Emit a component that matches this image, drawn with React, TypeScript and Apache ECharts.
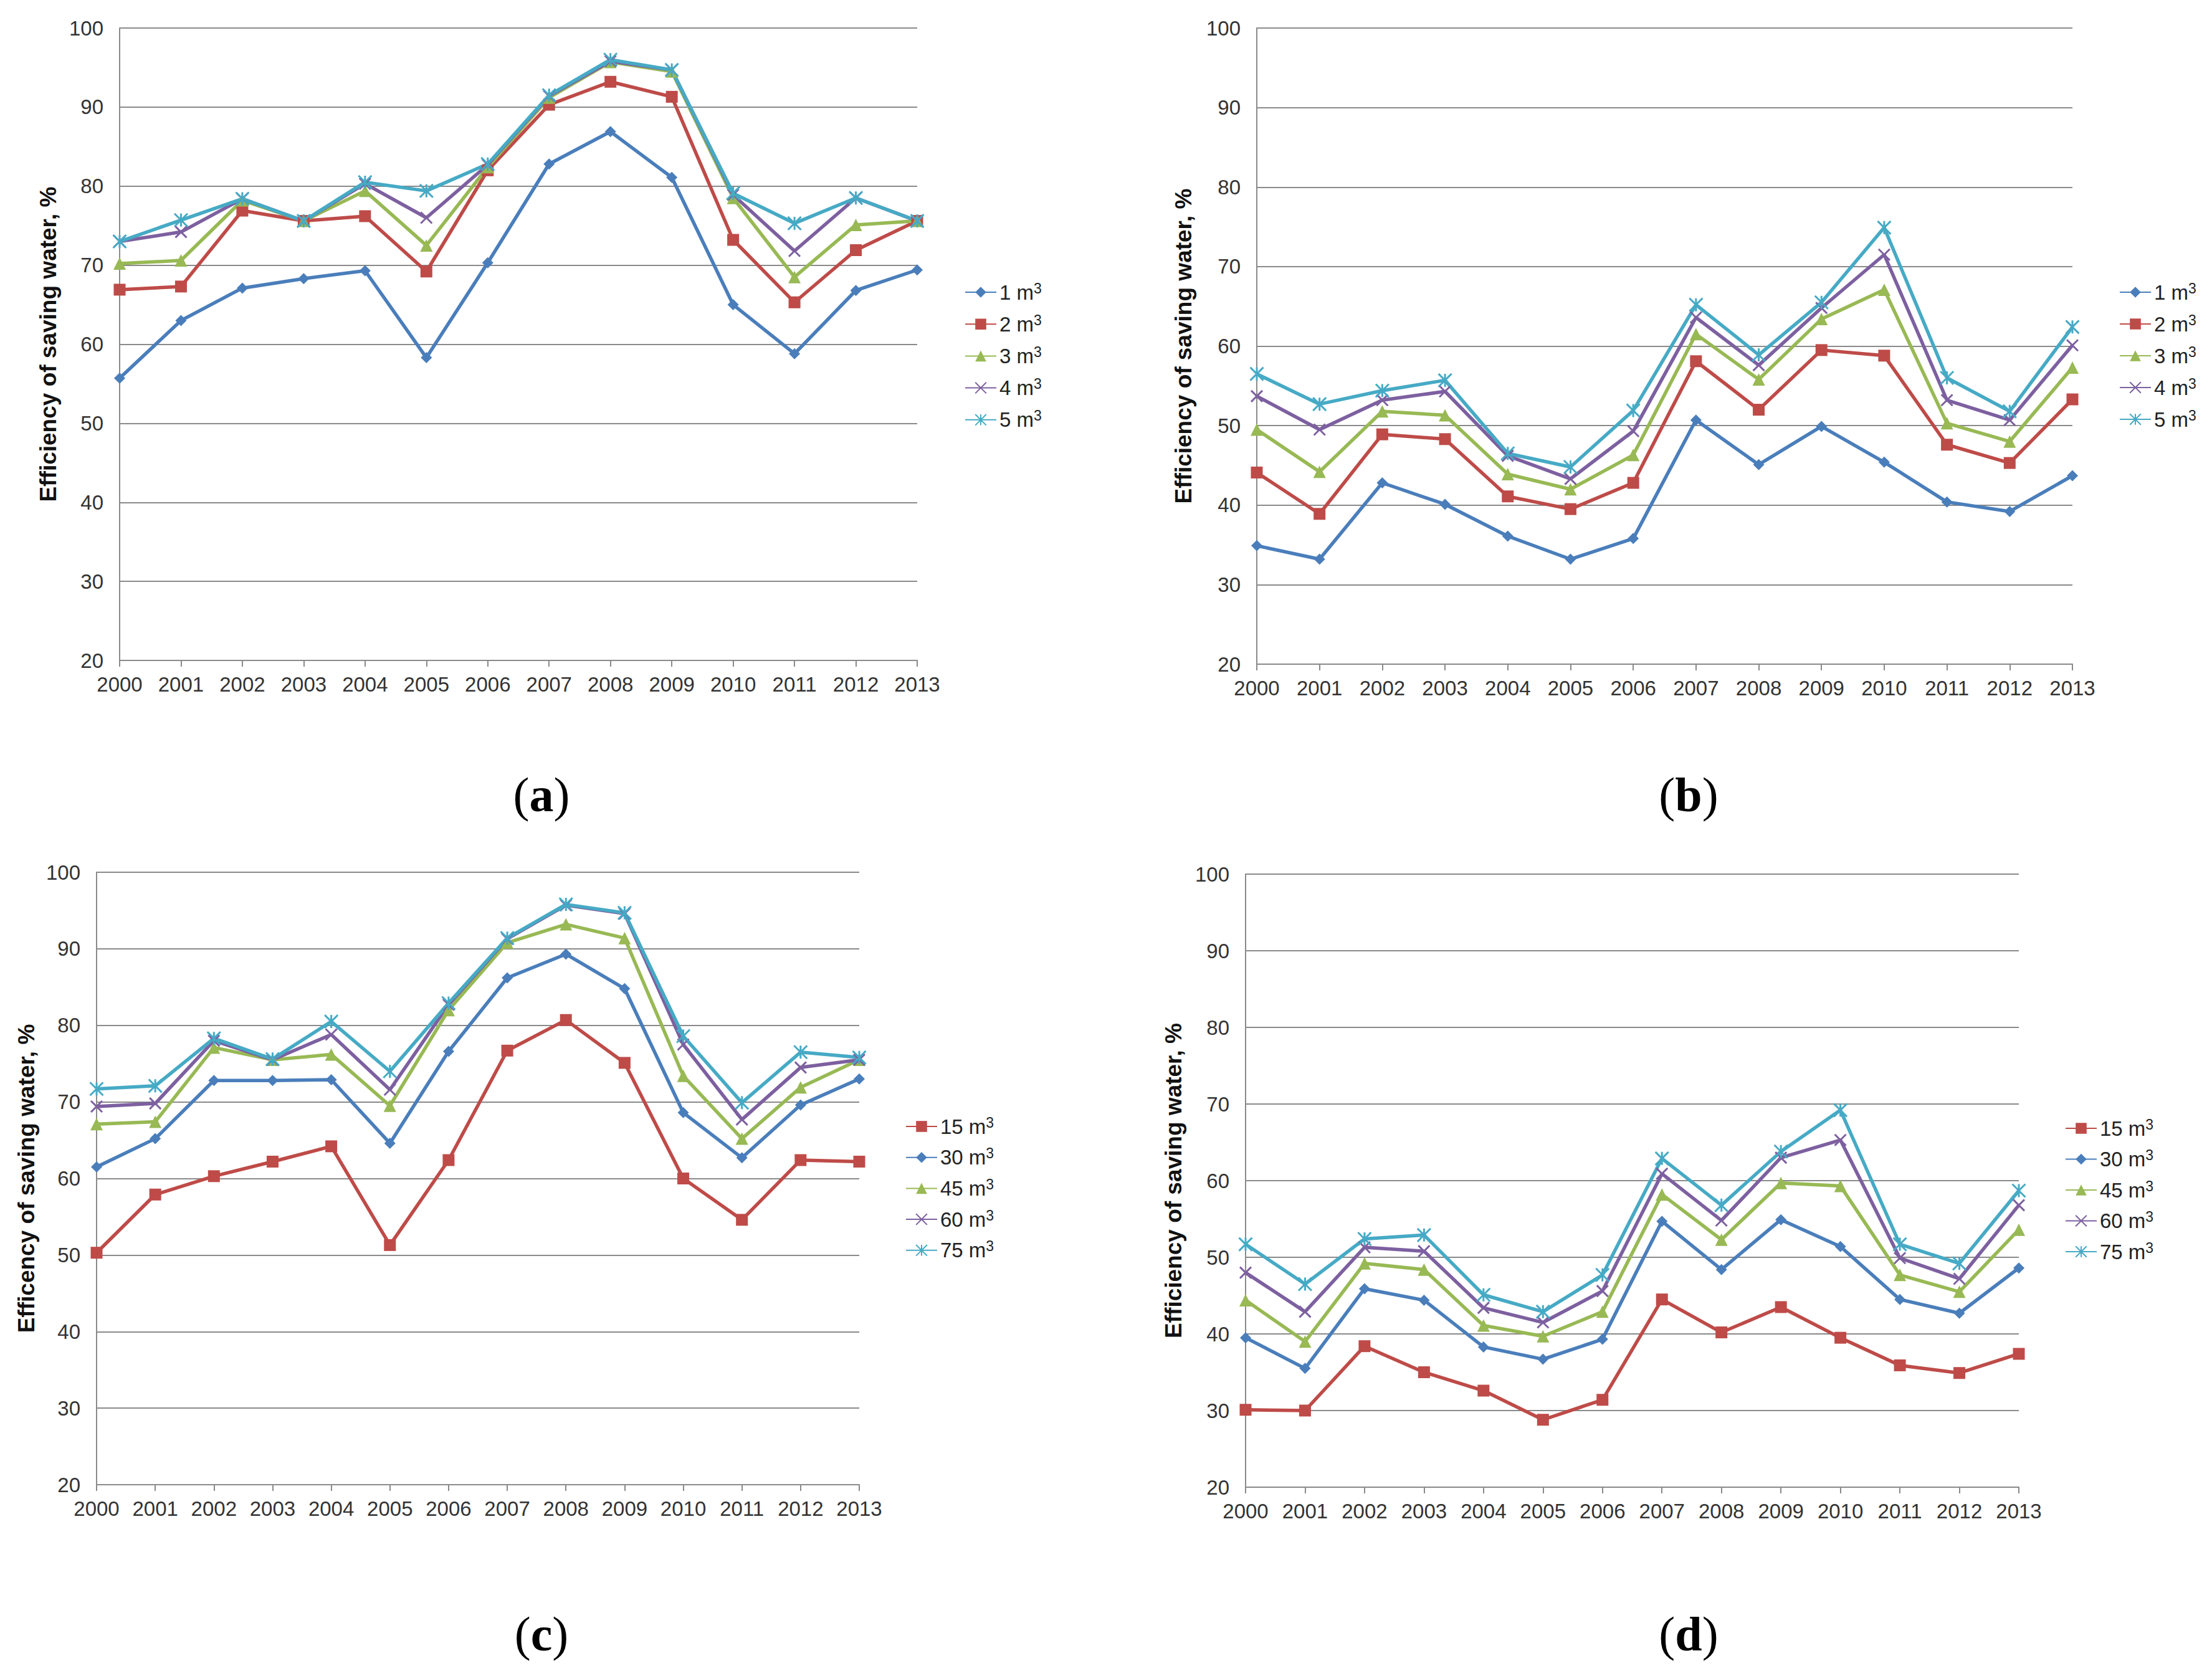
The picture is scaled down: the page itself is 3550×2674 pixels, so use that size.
import React, { useEffect, useRef } from "react";
import * as echarts from "echarts";

// ---------- data ----------
const years = ["2000","2001","2002","2003","2004","2005","2006","2007","2008","2009","2010","2011","2012","2013"];
const yMin = 20;
const yMax = 100;
const yStep = 10;

const namesTop = ["1 m³", "2 m³", "3 m³", "4 m³", "5 m³"];
const namesBottom = ["15 m³", "30 m³", "45 m³", "60 m³", "75 m³"];
const titleTop = "Efficiency of saving water, %";
const titleC = "Efficency of saving water, %";
const panelLabels = ["a", "b", "c", "d"];

// panel (a)
const a1 = [55.7, 63.0, 67.1, 68.3, 69.3, 58.3, 70.3, 82.8, 86.9, 81.1, 65.0, 58.8, 66.8, 69.4];
const a2 = [66.9, 67.3, 76.9, 75.6, 76.2, 69.2, 82.0, 90.3, 93.2, 91.3, 73.2, 65.3, 71.9, 75.6];
const a3 = [70.2, 70.6, 78.2, 75.6, 79.4, 72.5, 82.4, 91.2, 95.7, 94.5, 78.5, 68.5, 75.1, 75.6];
const a4 = [73.0, 74.2, 78.4, 75.6, 80.3, 76.0, 82.7, 91.4, 95.8, 94.7, 78.9, 71.8, 78.5, 75.6];
const a5 = [73.0, 75.7, 78.4, 75.6, 80.5, 79.4, 82.8, 91.5, 96.0, 94.7, 79.1, 75.3, 78.5, 75.6];

// panel (b)
const b1 = [34.9, 33.2, 42.8, 40.1, 36.1, 33.2, 35.8, 50.7, 45.1, 49.9, 45.4, 40.4, 39.2, 43.7];
const b2 = [44.1, 38.9, 48.9, 48.3, 41.1, 39.5, 42.8, 58.1, 52.0, 59.5, 58.8, 47.6, 45.3, 53.3];
const b3 = [49.5, 44.2, 51.8, 51.3, 43.9, 42.0, 46.3, 61.5, 55.8, 63.4, 67.1, 50.3, 48.0, 57.3];
const b4 = [53.7, 49.5, 53.2, 54.3, 46.2, 43.3, 49.3, 63.6, 57.6, 64.8, 71.5, 53.2, 50.7, 60.1];
const b5 = [56.5, 52.7, 54.4, 55.7, 46.5, 44.8, 51.9, 65.2, 58.9, 65.5, 74.9, 56.0, 51.8, 62.4];

// panel (c)
const c15 = [50.3, 57.9, 60.3, 62.2, 64.2, 51.3, 62.4, 76.7, 80.7, 75.1, 60.0, 54.6, 62.4, 62.2];
const c30 = [61.5, 65.2, 72.8, 72.8, 72.9, 64.6, 76.6, 86.2, 89.3, 84.8, 68.6, 62.7, 69.6, 73.0];
const c45 = [67.1, 67.4, 77.1, 75.5, 76.2, 69.5, 82.0, 90.8, 93.2, 91.4, 73.4, 65.2, 71.9, 75.5];
const c60 = [69.4, 69.8, 78.0, 75.5, 78.8, 71.6, 82.7, 91.3, 95.7, 94.6, 77.5, 67.7, 74.5, 75.5];
const c75 = [71.7, 72.1, 78.3, 75.6, 80.5, 74.0, 82.9, 91.4, 95.8, 94.7, 78.6, 69.9, 76.5, 75.8];

// panel (d)
const d15 = [30.1, 30.0, 38.4, 35.0, 32.6, 28.8, 31.4, 44.5, 40.2, 43.5, 39.5, 35.9, 34.9, 37.4];
const d30 = [39.5, 35.5, 45.9, 44.4, 38.3, 36.7, 39.3, 54.7, 48.4, 54.9, 51.4, 44.5, 42.7, 48.6];
const d45 = [44.4, 39.0, 49.2, 48.4, 41.1, 39.7, 42.9, 58.2, 52.3, 59.7, 59.3, 47.7, 45.5, 53.6];
const d60 = [48.0, 42.9, 51.3, 50.8, 43.4, 41.5, 45.6, 60.9, 54.8, 63.0, 65.3, 49.9, 47.2, 56.8];
const d75 = [51.7, 46.5, 52.4, 52.9, 45.1, 42.9, 47.7, 62.9, 56.8, 63.8, 69.2, 51.7, 49.2, 58.7];

// ---------- styles ----------
const BLUE = "#4A7EBB";
const RED = "#BE4B48";
const GREEN = "#98B954";
const PURPLE = "#7D60A0";
const CYAN = "#46AAC5";
const GRID_GRAY = "#8a8a8a";
const FONT = "Liberation Sans, Arial, sans-serif";

const X_PATH = "path://M0 0L10 10M10 0L0 10";
const STAR_PATH = "path://M0 0L10 10M10 0L0 10M5 0L5 10";

type Sty = { color: string; symbol: string; size: number; stroke?: boolean };
const DIAMOND: Sty = { color: BLUE, symbol: "diamond", size: 18 };
const SQUARE: Sty = { color: RED, symbol: "rect", size: 19 };
const TRI: Sty = { color: GREEN, symbol: "triangle", size: 20 };
const XS: Sty = { color: PURPLE, symbol: X_PATH, size: 18, stroke: true };
const STAR: Sty = { color: CYAN, symbol: STAR_PATH, size: 21, stroke: true };

const grids = [
  { left: 192, top: 45, width: 1280, height: 1015 },
  { left: 2017, top: 45, width: 1309, height: 1021 },
  { left: 155, top: 1400, width: 1224, height: 983 },
  { left: 1999, top: 1403, width: 1241, height: 984 },
];
const nameGaps = [96, 99, 94, 97];
const legendPos = [
  { left: 1548, top: 451, gap: 16.7 },
  { left: 3401, top: 451, gap: 16.5 },
  { left: 1453, top: 1790, gap: 15.2 },
  { left: 3314, top: 1793, gap: 15.0 },
];
const labelPos = [
  [869, 1275],
  [2710, 1275],
  [869, 2622],
  [2710, 2622],
];

function makeSeries(name: string, data: number[], s: Sty, idx: number) {
  return {
    type: "line",
    name,
    xAxisIndex: idx,
    yAxisIndex: idx,
    data,
    symbol: s.symbol,
    symbolSize: s.size,
    showSymbol: true,
    lineStyle: { color: s.color, width: 5.5 },
    itemStyle: s.stroke
      ? { color: s.color, borderColor: s.color, borderWidth: 3 }
      : { color: s.color, borderWidth: 0 },
    emphasis: { disabled: true },
    z: 2,
  };
}

function buildOption() {
  const panels: { names: string[]; data: number[][]; styles: Sty[]; title: string }[] = [
    { names: namesTop, data: [a1, a2, a3, a4, a5], styles: [DIAMOND, SQUARE, TRI, XS, STAR], title: titleTop },
    { names: namesTop, data: [b1, b2, b3, b4, b5], styles: [DIAMOND, SQUARE, TRI, XS, STAR], title: titleTop },
    { names: namesBottom, data: [c15, c30, c45, c60, c75], styles: [SQUARE, DIAMOND, TRI, XS, STAR], title: titleC },
    { names: namesBottom, data: [d15, d30, d45, d60, d75], styles: [SQUARE, DIAMOND, TRI, XS, STAR], title: titleTop },
  ];

  const series: any[] = [];
  panels.forEach((p, i) => {
    p.names.forEach((n, k) => series.push(makeSeries(n, p.data[k], p.styles[k], i)));
  });

  const xAxis = grids.map((_, i) => ({
    type: "category",
    gridIndex: i,
    data: years,
    boundaryGap: false,
    axisLine: { show: true, lineStyle: { color: GRID_GRAY, width: 2 } },
    axisTick: { show: true, length: 10, lineStyle: { color: GRID_GRAY, width: 2 } },
    axisLabel: { interval: 0, fontSize: 33, color: "#333", margin: 22, fontFamily: FONT },
    splitLine: { show: false },
  }));

  const yAxis = grids.map((_, i) => ({
    type: "value",
    gridIndex: i,
    min: yMin,
    max: yMax,
    interval: yStep,
    axisLine: { show: true, lineStyle: { color: GRID_GRAY, width: 2 } },
    axisTick: { show: false },
    axisLabel: { fontSize: 33, color: "#333", margin: 26, fontFamily: FONT },
    splitLine: { show: true, lineStyle: { color: GRID_GRAY, width: 2 } },
    name: panels[i].title,
    nameLocation: "middle",
    nameRotate: 90,
    nameGap: nameGaps[i],
    nameTextStyle: { fontSize: 37, fontWeight: "bold", color: "#111", fontFamily: FONT },
  }));

  const legend = legendPos.map((lp, i) => ({
    orient: "vertical",
    left: lp.left,
    top: lp.top,
    padding: 0,
    itemWidth: 50,
    itemHeight: 22,
    itemGap: lp.gap,
    selectedMode: false,
    data: panels[i].names,
    formatter: (name: string) => `{n|${name.replace("³", "")}}{s|3}`,
    textStyle: {
      color: "#222",
      fontFamily: FONT,
      rich: {
        n: { fontSize: 33, lineHeight: 36, fontFamily: FONT, color: "#222" },
        s: { fontSize: 23, lineHeight: 22, verticalAlign: "top", fontFamily: FONT, color: "#222" },
      },
    },
  }));

  const graphic = panelLabels.map((l, i) => ({
    type: "text",
    x: labelPos[i][0],
    y: labelPos[i][1],
    style: {
      text: `{p|(}{b|${l}}{p|)}`,
      align: "center",
      verticalAlign: "middle",
      rich: {
        p: { fontSize: 78, fontFamily: "Liberation Serif, Times New Roman, serif", fill: "#000" },
        b: { fontSize: 78, fontWeight: "bold", fontFamily: "Liberation Serif, Times New Roman, serif", fill: "#000" },
      },
    },
  }));

  return {
    animation: false,
    backgroundColor: "#ffffff",
    grid: grids,
    xAxis,
    yAxis,
    legend,
    series,
    graphic,
  };
}

export default function App() {
  const ref = useRef<HTMLDivElement>(null);
  useEffect(() => {
    if (!ref.current) return;
    const chart = echarts.init(ref.current, undefined, { renderer: "svg" });
    chart.setOption(buildOption() as any);
    return () => chart.dispose();
  }, []);
  return (
    <div
      ref={ref}
      style={{ position: "fixed", left: 0, top: 0, width: 3550, height: 2674, background: "#fff" }}
    />
  );
}
